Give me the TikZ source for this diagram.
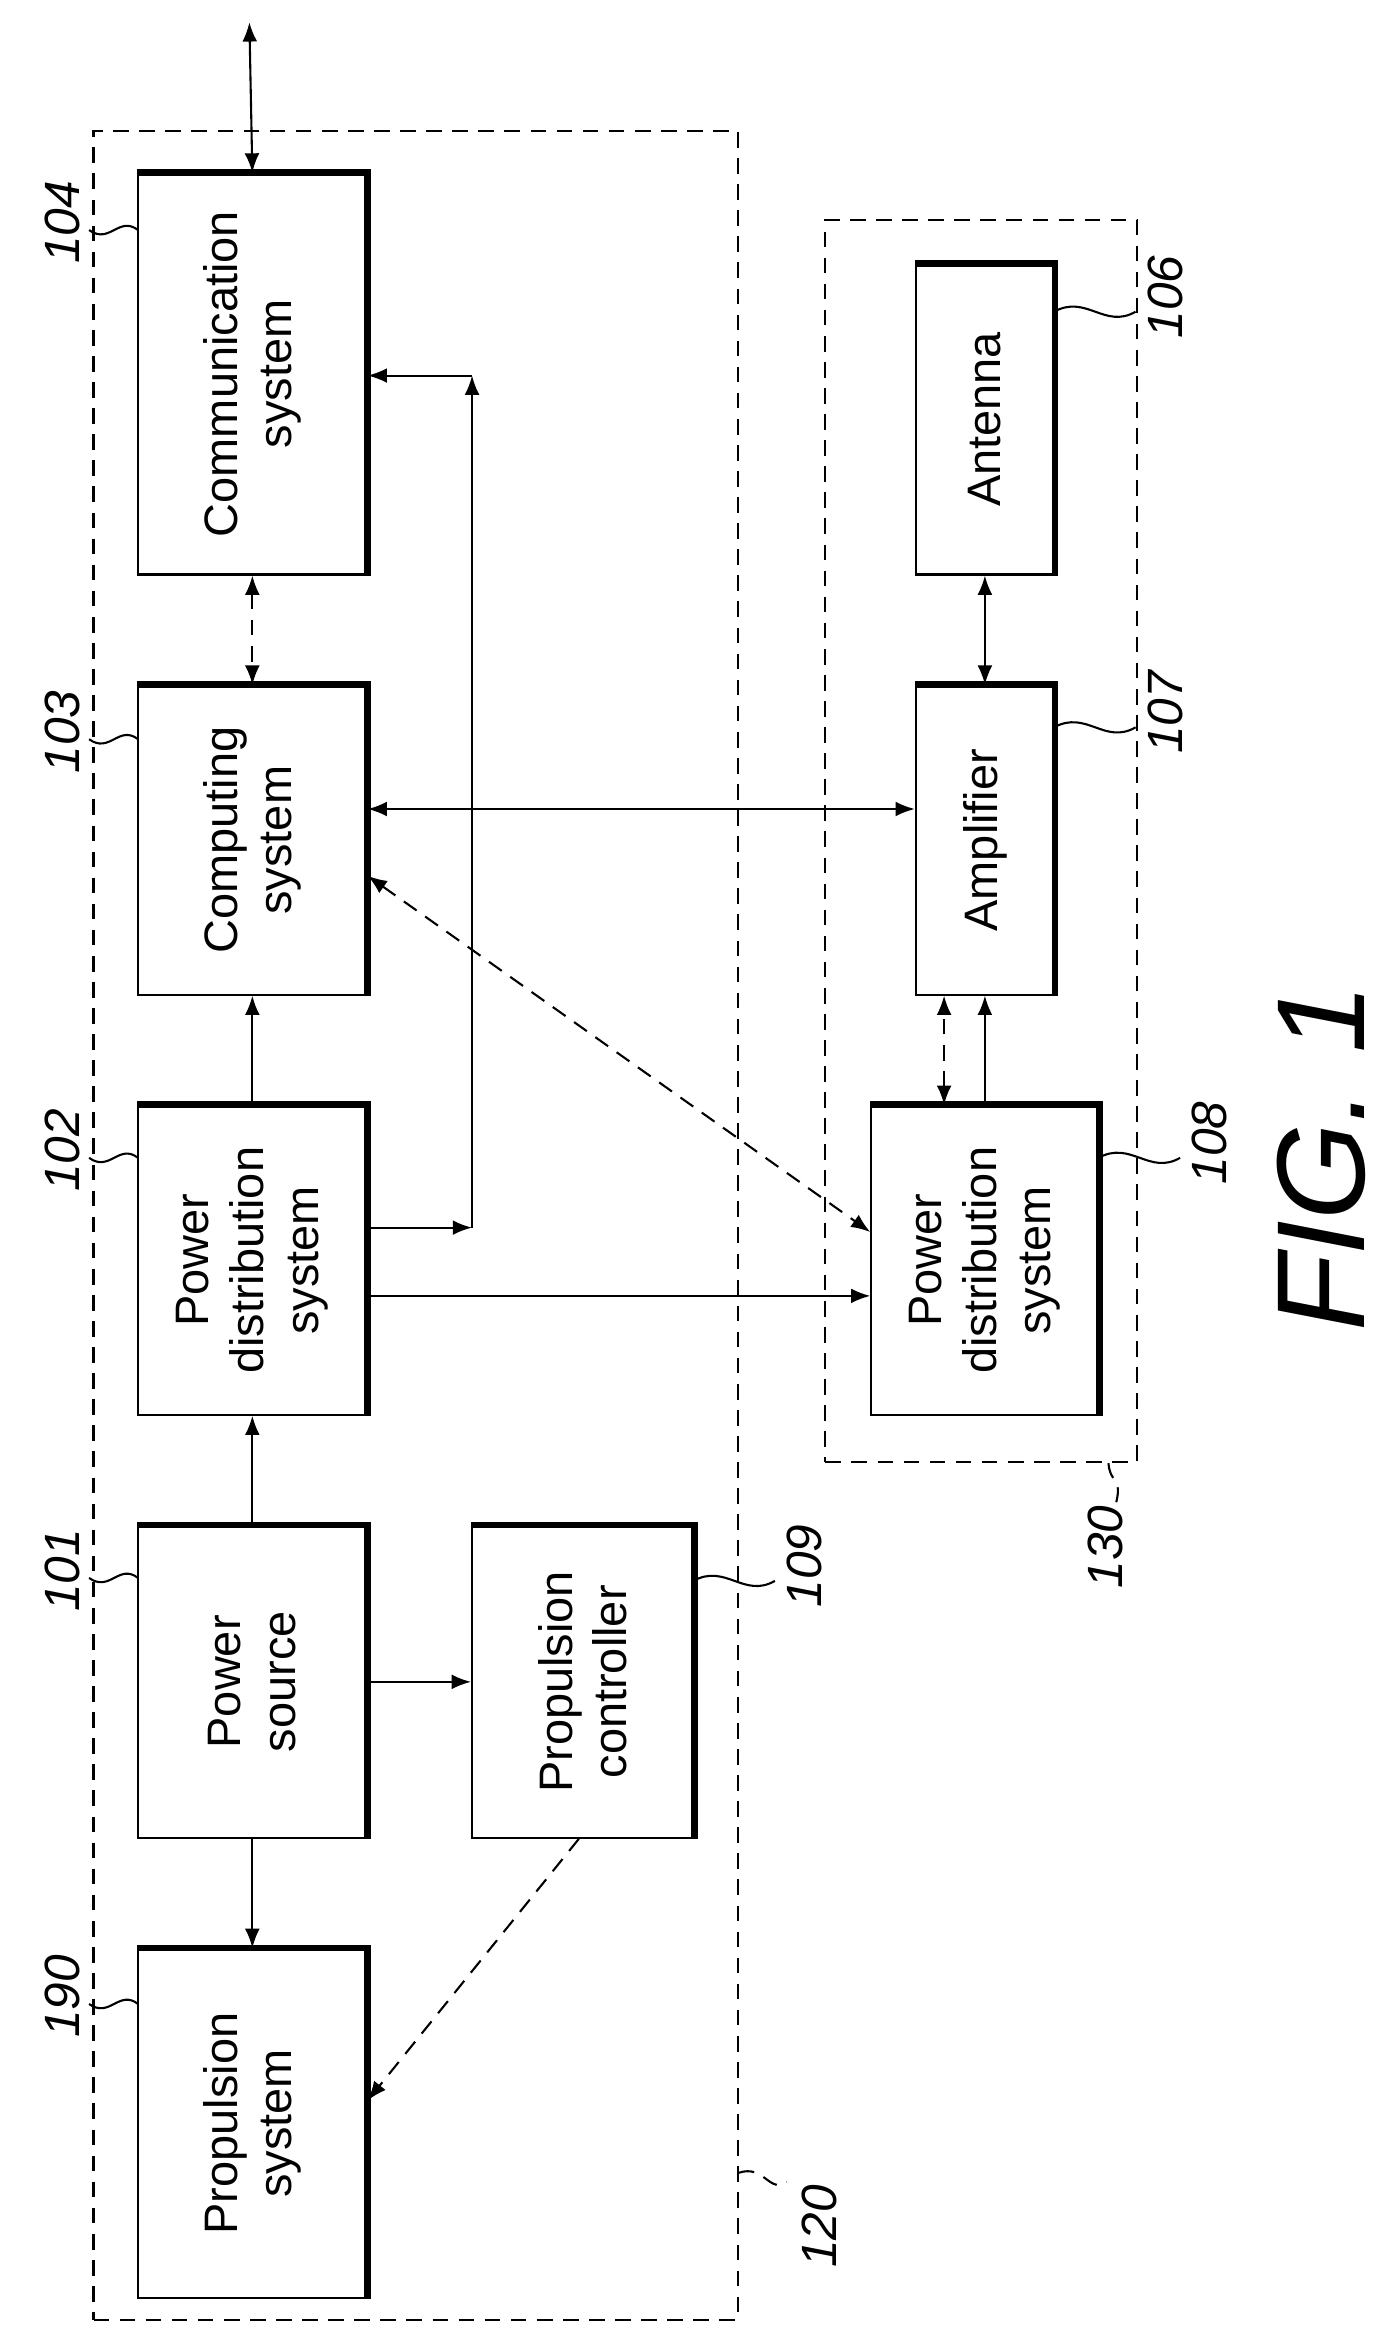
\documentclass[tikz,border=0pt]{standalone}
\usepackage{fontspec}
\setmainfont{Liberation Sans}
\usetikzlibrary{fit,arrows.meta}

\begin{document}
\begin{tikzpicture}[x=0.02cm,y=-0.02cm,line width=0.8pt,>={Latex[length=2.6mm,width=2mm]},
	blk/.style={draw,inner sep=0pt},
	txt/.style={rotate=90,align=center,font=\fontsize{18}{21}\selectfont},
	num/.style={rotate=90,font=\fontsize{19}{21}\selectfont\itshape},
	dsh/.style={dash pattern=on 6pt off 4pt},
	grp/.style={draw,dsh,inner sep=0pt}]
\def\heavy#1{
	\draw[line width=2.6pt] (#1.north west) -- (#1.north east) -- (#1.south east);
}
\useasboundingbox (0,0) rectangle (935,1571);

% groups
\node[grp,fit={(63,88) (497,1563)}] (g120) {};
\node[grp,fit={(556,148) (766,985)}] (g130) {};

% blocks
\node[blk,fit={(93,117) (247,387)}] (comm) {};
\node[blk,fit={(93,462) (247,670)}] (comp) {};
\node[blk,fit={(93,745) (247,953)}] (pdist) {};
\node[blk,fit={(93,1028) (247,1238)}] (psrc) {};
\node[blk,fit={(93,1313) (247,1548)}] (prop) {};
\node[blk,fit={(318,1028) (467,1238)}] (pctl) {};
\node[blk,fit={(617,178) (710,387)}] (ant) {};
\node[blk,fit={(617,462) (710,670)}] (amp) {};
\node[blk,fit={(587,745) (740,953)}] (pdist2) {};
\foreach \b in {comm,comp,pdist,psrc,prop,pctl,ant,amp,pdist2}{
	\heavy{\b}
}

\node[txt] at (comm) {Communication\\system};
\node[txt] at (comp) {Computing\\system};
\node[txt] at (pdist) {Power\\distribution\\system};
\node[txt] at (psrc) {Power\\source};
\node[txt] at (prop) {Propulsion\\system};
\node[txt] at (pctl) {Propulsion\\controller};
\node[txt] at (ant) {Antenna};
\node[txt] at (amp) {Amplifier};
\node[txt] at (pdist2) {Power\\distribution\\system};

% connectors
\coordinate (ext) at (168,15);
\coordinate (tap) at (318,253);
\coordinate (bus) at (318,827);
\draw[<->] (ext) -- (comm.north);
\draw[<->,dsh] (comm.south) -- (comp.north);
\draw[->] (pdist.north) -- (comp.south);
\draw[->] (psrc.north) -- (pdist.south);
\draw[->] (psrc.south) -- (prop.north);
\draw[->] (psrc.east) -- (pctl.west);
\draw[->] (pdist.east |- bus) -- (bus);
\draw[->] (bus) -- (tap);
\draw[->] (tap) -- (comm.east |- tap);
\draw[<->] (comp.east |- 0,545) -- (amp.west |- 0,545);
\draw[<->,dsh] (comp.east |- 0,590) -- (pdist2.west |- 0,830);
\draw[->] (pdist.east |- 0,873) -- (pdist2.west |- 0,873);
\draw[<->] (ant.south) -- (amp.north);
\draw[->] (pdist2.north -| amp) -- (amp.south);
\draw[<->,dsh] (pdist2.north -| 636,0) -- (amp.south -| 636,0);
\draw[->,dsh] (pctl.south -| 390,0) -- (prop.east |- 0,1415);

% reference numerals
\foreach \n/\y in {104/155,103/498,102/780,101/1063,190/1350}{
	\draw (93,\y) .. controls (80,\y-10) and (74,\y+10) .. (60,\y);
	\node[num] at (42,\y-5) {\n};
}
\foreach \n/\y/\x in {106/210/710,107/490/710,108/780/740,109/1065/467}{
	\draw (\x,\y) .. controls (\x+22,\y-12) and (\x+34,\y+12) .. (\x+55,\y);
	\node[num] at (\x+75,\y-10) {\n};
}
\draw[dsh] (g130.south east) ++(-20,0) .. controls (748,1000) and (756,995) .. (752,1012);
\node[num] at (745,1042) {130};
\draw[dsh] (g120.south east) ++(0,-100) .. controls (515,1458) and (518,1478) .. (530,1470);
\node[num] at (552,1500) {120};
\node[rotate=90,font=\fontsize{48}{50}\selectfont\itshape] (fig) at (890,780) {FIG. 1};
\end{tikzpicture}
\end{document}
